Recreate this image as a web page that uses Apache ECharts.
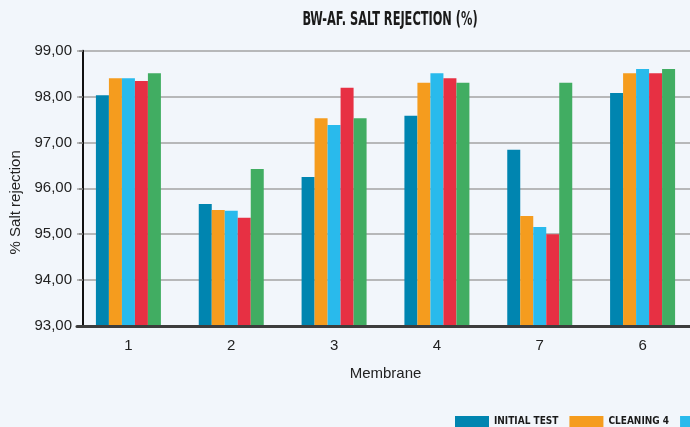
<!DOCTYPE html>
<html>
<head>
<meta charset="utf-8">
<script src="https://cdn.jsdelivr.net/npm/echarts@6/dist/echarts.min.js"></script>
<style>
html, body { margin: 0; padding: 0; background: #f2f6fb; }
#chart { width: 690px; height: 427px; }
</style>
</head>
<body>
<div id="chart"></div>
<script>
var chart = echarts.init(document.getElementById('chart'));

// membranes, in the order of the picture
var membranes = ['1', '2', '3', '4', '7', '6'];

var initialTest = [98.03, 95.66, 96.25, 97.58, 96.84, 98.08];
var cleaning4   = [98.40, 95.53, 97.53, 98.30, 95.40, 98.51];
var cleaning5   = [98.40, 95.51, 97.38, 98.51, 95.16, 98.60];
var cleaning6   = [98.34, 95.36, 98.19, 98.40, 95.00, 98.51];
var cleaning7   = [98.51, 96.42, 97.53, 98.30, 98.30, 98.60];

var seriesNames = ['INITIAL TEST', 'CLEANING 4', 'CLEANING 5', 'CLEANING 6', 'CLEANING 7'];
var seriesData = [initialTest, cleaning4, cleaning5, cleaning6, cleaning7];
var colors = ['#0085b0', '#f59c1e', '#29baec', '#e73043', '#41ad62'];

var condensed = '"DejaVu Sans Condensed", "Liberation Sans Narrow", sans-serif';
var plain = '"Liberation Sans", Arial, sans-serif';

var series = seriesNames.map(function (name, i) {
    return {
        name: name,
        type: 'bar',
        data: seriesData[i],
        barWidth: 13,
        barGap: '0%',
        itemStyle: { color: colors[i] }
    };
});

var option = {
    backgroundColor: '#f2f6fb',
    color: colors,
    animation: false,
    // title as a squeezed text so it looks like the narrow display face
    graphic: [{
        type: 'text',
        x: 390,
        y: 11,
        scaleX: 0.665,
        style: {
            text: 'BW-AF. SALT REJECTION (%)',
            font: 'bold 19px ' + condensed,
            fill: '#1a1a1a',
            align: 'center',
            verticalAlign: 'top'
        }
    }],
    legend: {
        left: 455,
        top: 416,
        padding: 0,
        width: 900,
        itemWidth: 34,
        itemHeight: 11,
        itemGap: 11,
        icon: 'rect',
        data: seriesNames,
        textStyle: {
            fontFamily: condensed,
            fontWeight: 'bold',
            fontSize: 10,
            color: '#1a1a1a'
        }
    },
    grid: {
        left: 77,
        top: 50.7,
        width: 617,
        height: 275.3,
        outerBoundsMode: 'none',
        containLabel: false
    },
    xAxis: {
        type: 'category',
        data: membranes,
        z: 5,
        name: 'Membrane',
        nameLocation: 'middle',
        nameGap: 40,
        nameTextStyle: { fontFamily: plain, fontSize: 15, color: '#222' },
        axisLine: { lineStyle: { color: '#3d3d3d', width: 3 } },
        axisTick: { show: false },
        axisLabel: { fontFamily: plain, fontSize: 15, color: '#222', margin: 12 }
    },
    yAxis: {
        type: 'value',
        min: 93,
        max: 99,
        interval: 1,
        offset: -6,
        name: '% Salt rejection',
        nameLocation: 'middle',
        nameGap: 60,
        nameTextStyle: { fontFamily: plain, fontSize: 15, color: '#222', padding: [0, 28, 0, 0] },
        axisLine: { show: true, lineStyle: { color: '#111', width: 2 } },
        axisTick: { show: true, length: 4, lineStyle: { color: '#888', width: 1.5 } },
        axisLabel: {
            fontFamily: plain,
            fontSize: 15,
            color: '#222',
            margin: 11,
            formatter: function (v) { return v.toFixed(2).replace('.', ','); }
        },
        splitLine: { lineStyle: { color: '#a3a3a3', width: 1.5 } }
    },
    series: series
};

chart.setOption(option);
</script>
</body>
</html>
